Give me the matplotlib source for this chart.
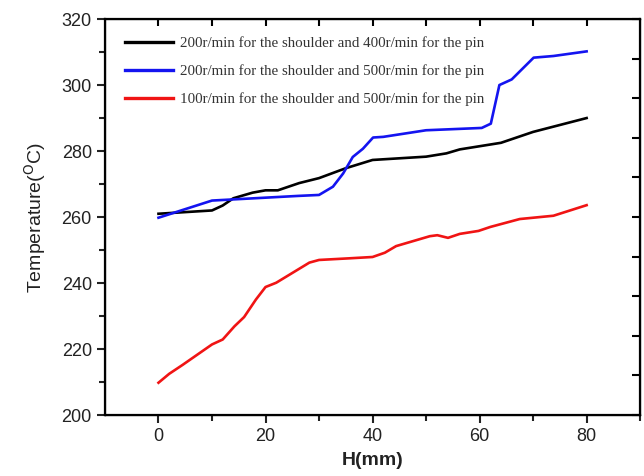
import matplotlib
matplotlib.use("Agg")
import matplotlib.pyplot as plt

# H (mm) vs temperature (C) for three rotation speed settings
h_black = [0, 10, 12, 14, 17.6, 20, 22.3, 26.3, 30, 35, 40, 50, 53.8, 56.3, 64, 70, 80]
t_black = [261, 262, 263.5, 265.7, 267.4, 268.1, 268.1, 270.3, 271.8, 274.8, 277.3,
           278.3, 279.3, 280.5, 282.5, 285.8, 290]

h_blue = [0, 10, 26, 30, 32.6, 34.5, 36.3, 38.2, 40.1, 42, 50, 60.4, 62.1, 63.7, 66,
          70.1, 73.8, 80]
t_blue = [259.8, 265, 266.4, 266.7, 269.2, 273.2, 278.2, 280.7, 284.1, 284.3, 286.3,
          287, 288.3, 300, 301.7, 308.3, 308.8, 310.2]

h_red = [0, 2, 4.5, 10, 12, 14.2, 16, 18.2, 20, 22, 28.2, 30, 35.7, 40, 42.3, 44.4,
         50.7, 52.1, 54.1, 56.3, 59.8, 62, 67.5, 73.8, 80]
t_red = [209.8, 212.5, 215.2, 221.4, 222.9, 226.9, 229.7, 235, 238.8, 240.1, 246.2,
         247, 247.5, 247.9, 249.2, 251.2, 254.2, 254.5, 253.7, 254.9, 255.8, 257,
         259.4, 260.4, 263.6]

labels = ["200r/min for the shoulder and 400r/min for the pin",
          "200r/min for the shoulder and 500r/min for the pin",
          "100r/min for the shoulder and 500r/min for the pin"]

plt.rcParams['font.family'] = ['Liberation Sans', 'DejaVu Sans']

fig = plt.figure(figsize=(6.44, 4.76), dpi=100)
ax = fig.add_axes([0.163, 0.128, 0.831, 0.832])

ax.plot(h_black, t_black, color='black', lw=1.9, label=labels[0])
ax.plot(h_blue, t_blue, color='#1414f0', lw=1.9, label=labels[1])
ax.plot(h_red, t_red, color='#f01414', lw=1.9, label=labels[2])

ax.set_xlim(-10, 90)
ax.set_ylim(200, 320)
ax.set_xticks([0, 20, 40, 60, 80])
ax.set_xticks([10, 30, 50, 70, 90], minor=True)
ax.set_yticks(range(200, 321, 20))
ax.set_yticks(range(210, 320, 20), minor=True)
ax.tick_params(which='both', direction='out', width=1.5, labelsize=13,
               colors='#222222', top=False, right=False)
ax.tick_params(which='major', length=6)
ax.tick_params(which='minor', length=4)
for s in ax.spines.values():
    s.set_linewidth(1.6)

# extra inward ticks along the top and right edges
top = ax.twiny()
top.set_xlim(-10, 90)
top.set_xticks(range(0, 81, 10))
top.tick_params(direction='in', length=5, width=1.5, labeltop=False)
right = ax.twinx()
right.set_ylim(0, 10)
right.set_yticks(range(0, 11))
right.tick_params(direction='in', length=6, width=1.5, labelright=False)

ax.set_xlabel("H(mm)", fontsize=14, fontweight='bold', color='#222222', labelpad=5)
ax.set_ylabel("Temperature($^{\\rm O}$C)", fontsize=14, color='#222222', labelpad=10)

leg = ax.legend(loc='upper left', bbox_to_anchor=(0.037, 0.957), frameon=False,
                borderaxespad=0, borderpad=0, handlelength=3.2, handletextpad=0.45,
                labelspacing=0.95, prop={'family': 'Liberation Serif', 'size': 10.8})
for line in leg.get_lines():
    line.set_linewidth(2.4)
for t in leg.get_texts():
    t.set_color('#333333')

fig.savefig("out.png", dpi=100)
